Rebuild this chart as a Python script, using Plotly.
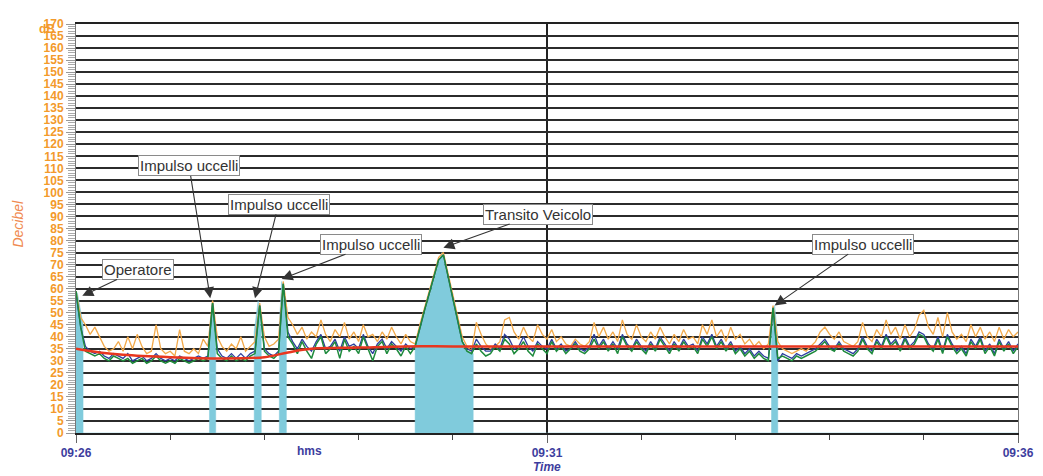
import plotly.graph_objects as go

# time in seconds after 09:26:00, 3 s step
t_sec = [3 * i for i in range(201)]

orange = [59, 48, 45, 41, 44, 40, 36, 34, 35, 38,
          34, 40, 35, 41, 36, 33, 34, 45, 35, 33,
          34, 32, 43, 34, 33, 35, 33, 39, 36, 55,
          40, 36, 34, 37, 35, 40, 34, 36, 38, 54,
          40, 36, 37, 39, 63, 48, 45, 41, 44, 39,
          42, 40, 47, 41, 38, 43, 40, 46, 39, 42,
          38, 45, 40, 41, 38, 42, 39, 44, 40, 37,
          41, 38, 37, 45, 52, 59, 66, 73, 75, 66,
          57, 48, 40, 36, 34, 46, 41, 37, 35, 36,
          38, 47, 48, 42, 39, 44, 40, 38, 45, 41,
          39, 43, 38, 40, 37, 36, 39, 37, 36, 38,
          46, 40, 44, 39, 42, 38, 47, 41, 39, 45,
          40, 38, 42, 39, 44, 40, 37, 41, 38, 43,
          39, 40, 37, 45, 41, 47, 40, 43, 38, 44,
          39, 41, 37, 39, 36, 38, 35, 37, 53, 38,
          35, 34, 33, 34, 35, 34, 36, 38, 42, 44,
          41, 39, 42, 38, 37, 36, 38, 46, 40, 38,
          43, 40, 47, 41, 44, 39, 45, 40, 43, 49,
          51, 44, 41, 48, 40, 50, 42, 39, 41, 38,
          45, 40, 44, 39, 42, 38, 44, 39, 43, 40,
          42]

blue = [58, 44, 36, 34, 33, 34, 32, 31, 33, 32,
        31, 33, 30, 31, 32, 30, 31, 33, 31, 30,
        31, 30, 32, 31, 30, 31, 32, 31, 32, 54,
        35, 32, 31, 33, 31, 33, 31, 33, 34, 53,
        35, 33, 32, 34, 62, 42, 38, 35, 39, 36,
        34, 38, 41, 35, 36, 39, 34, 40, 36, 37,
        35, 41, 36, 33, 37, 39, 35, 38, 36, 34,
        37, 35, 36, 44, 51, 58, 65, 72, 74, 65,
        56, 47, 38, 35, 34, 39, 36, 34, 34, 37,
        35, 41, 39, 35, 36, 40, 36, 34, 38, 36,
        35, 39, 35, 37, 34, 35, 38, 35, 34, 36,
        41, 36, 39, 35, 38, 35, 41, 37, 35, 39,
        36, 34, 38, 35, 40, 37, 34, 38, 35, 39,
        36, 37, 34, 40, 37, 41, 36, 39, 35, 38,
        34, 36, 33, 35, 32, 34, 32, 31, 52, 30,
        33, 32, 31, 33, 32, 33, 34, 35, 37, 39,
        36, 35, 38, 35, 34, 33, 35, 40, 36, 34,
        39, 36, 41, 37, 39, 35, 40, 36, 38, 42,
        41, 37, 35, 40, 34, 41, 37, 34, 36, 33,
        39, 36, 40, 34, 37, 33, 39, 35, 38, 34,
        37]

green = [59, 44, 34, 33, 32, 33, 31, 30, 32, 31,
         30, 31, 29, 30, 31, 29, 30, 32, 30, 29,
         30, 29, 31, 30, 29, 30, 31, 30, 31, 54,
         33, 31, 30, 32, 30, 31, 30, 32, 33, 53,
         34, 32, 31, 33, 62, 40, 37, 33, 38, 34,
         31, 37, 40, 33, 35, 38, 31, 39, 34, 36,
         33, 40, 35, 30, 36, 38, 33, 37, 35, 32,
         36, 33, 36, 44, 51, 58, 65, 72, 74, 65,
         56, 47, 38, 34, 33, 37, 34, 32, 33, 36,
         34, 39, 37, 33, 35, 38, 34, 32, 37, 35,
         33, 38, 34, 36, 33, 35, 37, 34, 33, 35,
         39, 35, 38, 34, 37, 33, 40, 36, 34, 38,
         35, 33, 37, 34, 39, 36, 33, 37, 34, 38,
         35, 36, 33, 39, 36, 40, 35, 38, 34, 37,
         33, 35, 32, 34, 31, 33, 31, 30, 52, 31,
         32, 31, 30, 32, 31, 32, 33, 34, 36, 38,
         35, 34, 37, 34, 33, 32, 34, 39, 35, 33,
         38, 35, 40, 36, 38, 34, 39, 35, 37, 41,
         40, 36, 34, 39, 33, 40, 36, 33, 35, 32,
         38, 35, 39, 33, 36, 32, 38, 34, 37, 33,
         36]

red_t = [0, 15, 30, 60, 90, 120, 135, 150, 180, 210, 240, 300, 360, 420, 480, 540, 600]
red = [35, 33.5, 32.5, 31.5, 31, 31.5, 33.5, 35, 35.5, 36, 36, 36, 36, 36, 36, 36, 36]

# masked events (light-blue area)
mask_t = [0, 0, 1, 4.5, 4.5, 85, 85, 87, 89, 89, 113.5, 113.5, 116, 118, 118,
          129.5, 129.5, 131, 134, 134, 216, 216, 233, 247, 253, 253,
          443, 443, 445, 447, 447, 600]
mask_v = [0, 59, 58, 45, 0, 0, 42, 55, 42, 0, 0, 42, 55, 42, 0,
          0, 45, 63, 45, 0, 0, 36, 75, 35, 33, 0,
          0, 40, 53, 40, 0, 0]

# annotations: label, head time, head dB, box-centre time, box-centre dB
notes_text = ["Operatore", "Impulso uccelli", "Impulso uccelli", "Impulso uccelli",
              "Transito Veicolo", "Impulso uccelli"]
notes_t = [4, 85.5, 114, 131, 234, 445]
notes_v = [57, 56, 56, 64, 77, 53]
notes_bt = [39.5, 72, 129, 188, 294, 501]
notes_bv = [68, 111, 95, 78.5, 91, 78.5]

y_ticks = list(range(0, 171, 5))
x_ticks = [0, 300, 600]
x_labels = ["09:26", "09:31", "09:36"]
x_minor = [60, 120, 180, 240, 360, 420, 480, 540]

fig = go.Figure()
fig.add_trace(go.Scatter(x=mask_t, y=mask_v, mode="lines", fill="tozeroy",
                         line=dict(color="#80cbdc", width=0.5),
                         fillcolor="#80cbdc", hoverinfo="skip"))
fig.add_trace(go.Scatter(x=t_sec, y=orange, mode="lines",
                         line=dict(color="#f2a94a", width=1.3)))
fig.add_trace(go.Scatter(x=t_sec, y=blue, mode="lines",
                         line=dict(color="#2e3f9e", width=1.3)))
fig.add_trace(go.Scatter(x=t_sec, y=green, mode="lines",
                         line=dict(color="#1e8a3c", width=1.5)))
fig.add_trace(go.Scatter(x=red_t, y=red, mode="lines", line_shape="spline",
                         line=dict(color="#e8361f", width=2.5)))

annotations = []
for txt, ht, hv, bt, bv in zip(notes_text, notes_t, notes_v, notes_bt, notes_bv):
    annotations.append(dict(
        x=ht, y=hv, ax=bt, ay=bv, axref="x", ayref="y", xref="x", yref="y",
        text=txt, showarrow=True, arrowhead=2, arrowsize=2, arrowwidth=1.1,
        arrowcolor="#333333", bgcolor="white", bordercolor="#8a8a8a",
        borderwidth=1, borderpad=1,
        font=dict(family="Liberation Sans, Arial", size=15, color="#333333")))

annotations += [
    dict(text="dB", xref="paper", yref="paper", x=-0.031, y=0.987,
         xanchor="center", yanchor="middle", showarrow=False,
         font=dict(family="Liberation Sans Narrow, Arial", size=12,
                   color="#f39a2b", weight="bold")),
    dict(text="<i>Decibel</i>", xref="paper", yref="paper", x=-0.0616, y=0.512,
         xanchor="center", yanchor="middle", textangle=-90, showarrow=False,
         font=dict(family="Liberation Sans, Arial", size=14, color="#f08a50")),
    dict(text="<b>hms</b>", xref="x", yref="paper", x=149, y=-0.043,
         xanchor="center", yanchor="middle", showarrow=False,
         font=dict(family="Liberation Sans, Arial", size=12, color="#3d3d9e")),
    dict(text="<b><i>Time</i></b>", xref="x", yref="paper", x=300, y=-0.084,
         xanchor="center", yanchor="middle", showarrow=False,
         font=dict(family="Liberation Sans, Arial", size=12, color="#3d3d9e")),
]

fig.update_layout(
    width=1035, height=468,
    margin=dict(l=68, r=25, t=9, b=43),
    paper_bgcolor="white", plot_bgcolor="white",
    showlegend=False,
    annotations=annotations,
    xaxis=dict(range=[0, 600], tickvals=x_ticks, ticktext=x_labels,
               showgrid=True, gridcolor="#222222", gridwidth=1.5,
               zeroline=False, showline=True, linecolor="#222222", linewidth=1.5,
               mirror=True, ticks="outside", ticklen=8, tickcolor="#666",
               tickfont=dict(family="Liberation Sans, Arial", size=12, color="#3d3d9e",
                             weight="bold"),
               minor=dict(tickvals=x_minor, ticks="outside", ticklen=5,
                          tickcolor="#444", showgrid=False)),
    yaxis=dict(range=[0, 170], tickvals=y_ticks, ticktext=[str(v) for v in y_ticks],
               showgrid=True, gridcolor="#2b2b2b", gridwidth=1.6,
               zeroline=False, showline=True, linecolor="#777", linewidth=1,
               mirror=True, ticks="outside", ticklen=9, tickcolor="#999",
               tickfont=dict(family="Liberation Sans Narrow, Arial", size=12,
                             color="#f39a2b", weight="bold"),
               minor=dict(dtick=1, ticks="outside", ticklen=7, tickcolor="#aaa",
                          showgrid=False)),
)

fig.write_html("out.html")
